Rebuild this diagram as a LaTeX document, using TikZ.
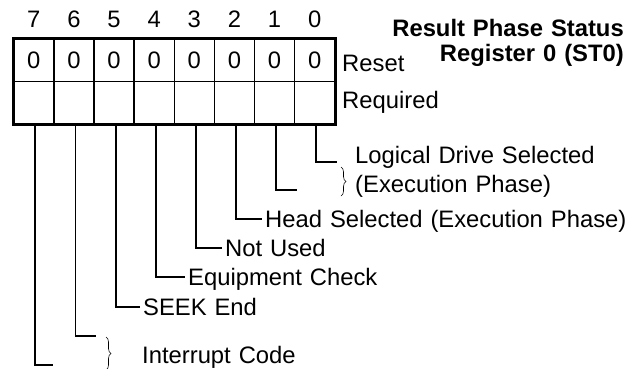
\documentclass[tikz,border=0pt]{standalone}
\usepackage{fontspec}
\setmainfont{Liberation Sans}[WordSpace=1.2]
\usetikzlibrary{decorations.pathreplacing,calc}
\begin{document}
\begin{tikzpicture}[x=1pt,y=-1pt,
  txt/.style={font=\fontsize{23.8}{29}\selectfont},
  cell/.style={draw,line width=1.6pt,minimum width=40.125pt,minimum height=42.5pt,inner sep=0pt,anchor=north west,txt,text height=16.8pt,text depth=0pt},
  lab/.style={anchor=west,inner sep=3pt,txt,text height=16.8pt,text depth=0pt},
  bitnum/.style={txt,inner sep=0pt,text height=16.8pt,text depth=0pt},
  conn/.style={line width=1.8pt},
  brc/.style={decorate,decoration={brace,amplitude=5pt},line width=0.6pt}]
\useasboundingbox (0,0) rectangle (635,368);
\foreach \b [count=\i from 0] in {7,6,5,4,3,2,1,0}{
  \node[cell] (r\b) at (13+40.125*\i,38) {0};
  \node[cell] (q\b) at (13+40.125*\i,80.5) {};
  \node[bitnum] (n\b) at ($(r\b.north)+(0,-19)$) {\b};
}
\draw[line width=2.6pt] (r7.north west) rectangle (q0.south east);
% labels right of box
\node[lab] (reset) at (339,63) {Reset};
\node[lab] (req) at (339,100) {Required};
\node[anchor=base east,align=right,inner sep=0pt,font=\fontsize{23.8}{25}\selectfont\bfseries] (title) at (624,61.5) {Result Phase Status\\Register 0 (ST0)};
% bit 0 and 1 with brace
\coordinate (e0) at (337,162);
\coordinate (e1) at (297,190);
\draw[conn] ([xshift=1.5pt]q0.south) |- (e0);
\draw[conn] ([xshift=1.5pt]q1.south) |- (e1);
\coordinate (b0t) at (341,167);
\coordinate (b0b) at (341,196);
\draw[brc] (b0t) -- (b0b);
\node[anchor=base west,align=left,inner sep=0pt,txt] (ldrive) at (355,192.5) {Logical Drive Selected\\(Execution Phase)};
% bits 2..5
\node[lab] (l2) at (262,219) {Head Selected (Execution Phase)};
\node[lab] (l3) at (222,248) {Not Used};
\node[lab] (l4) at (185,277) {Equipment Check};
\node[lab] (l5) at (140,307) {SEEK End};
\draw[conn] ([xshift=1.5pt]q2.south) |- (l2.west);
\draw[conn] ([xshift=1.5pt]q3.south) |- (l3.west);
\draw[conn] ([xshift=1.5pt]q4.south) |- (l4.west);
\draw[conn] ([xshift=1.5pt]q5.south) |- (l5.west);
% bits 6,7 with brace
\coordinate (e6) at (96,336);
\coordinate (e7) at (53,365);
\draw[conn] ([xshift=1.5pt]q6.south) |- (e6);
\draw[conn] ([xshift=1.5pt]q7.south) |- (e7);
\coordinate (b6t) at (106,337);
\coordinate (b6b) at (106,370);
\draw[brc] (b6t) -- (b6b);
\node[lab] (intr) at (139,355) {Interrupt Code};
\end{tikzpicture}
\end{document}
